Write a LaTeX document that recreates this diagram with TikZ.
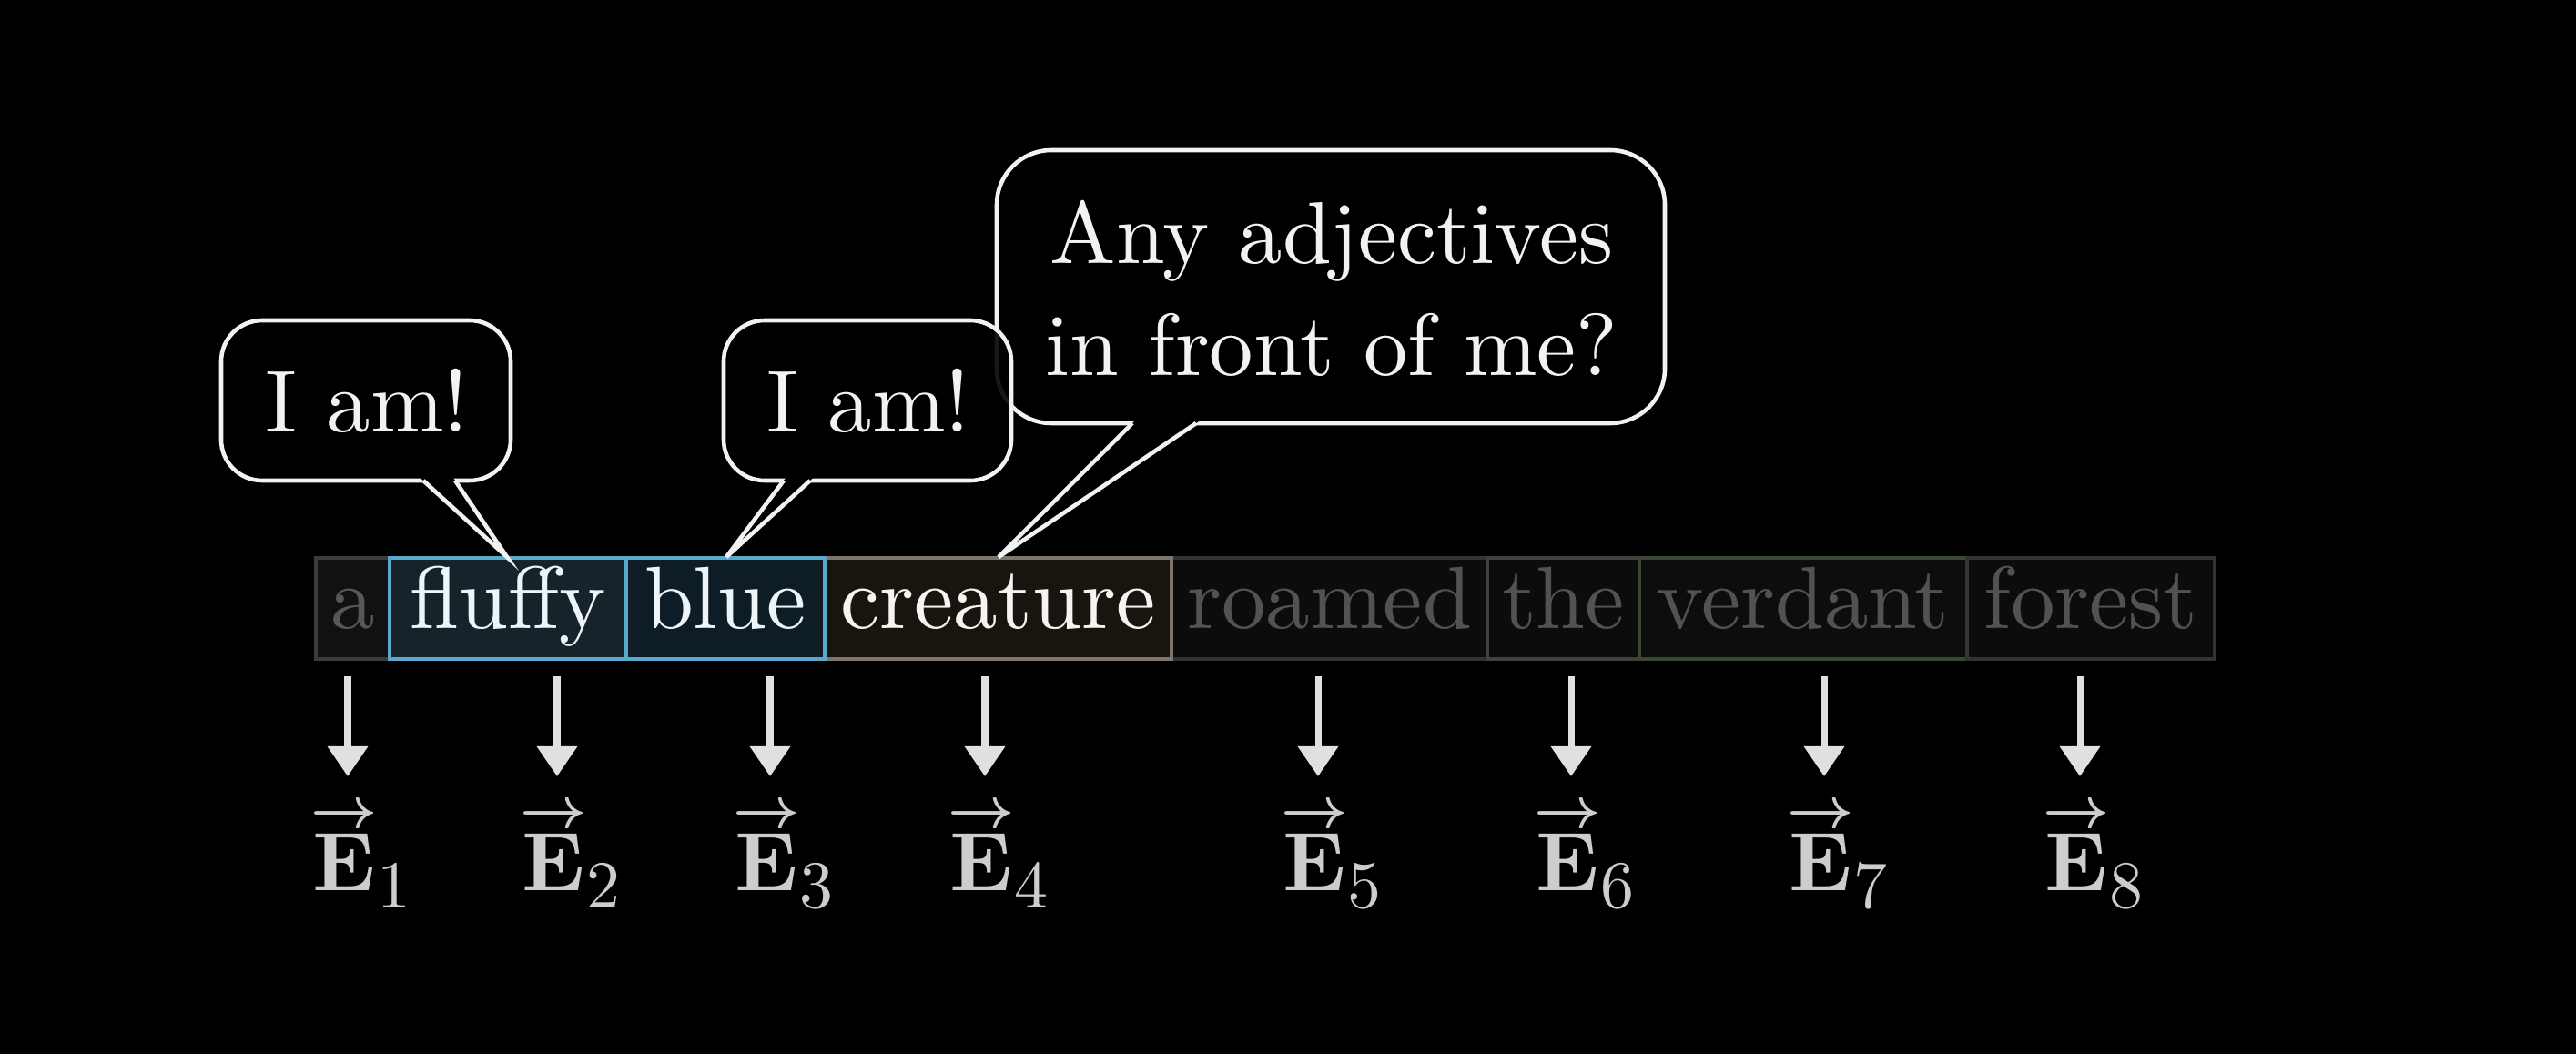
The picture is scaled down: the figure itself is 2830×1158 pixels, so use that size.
\documentclass[tikz,border=0pt]{standalone}
\usepackage{fontspec}
\setmainfont{lmroman10-regular.otf}[BoldFont=lmroman10-bold.otf, ItalicFont=lmroman10-italic.otf]
\usetikzlibrary{arrows.meta,calc}
\definecolor{bubstroke}{HTML}{F2F2F2}
\definecolor{bubtext}{HTML}{F2F2F2}
\definecolor{arrowgray}{HTML}{E0E0E0}
\definecolor{egray}{HTML}{CDCDCD}
\definecolor{dimtext}{HTML}{525252}
\definecolor{atext}{HTML}{575757}
\definecolor{brighttext}{HTML}{EEF5F8}
\definecolor{creatext}{HTML}{F6F4F0}
\definecolor{dimborder}{HTML}{333333}
\definecolor{dimfill}{HTML}{0C0C0C}
\definecolor{aborder}{HTML}{3C3C3C}
\definecolor{afill}{HTML}{111111}
\definecolor{theborder}{HTML}{404040}
\definecolor{blueborder}{HTML}{5AA8CA}
\definecolor{fluffyfill}{HTML}{17232A}
\definecolor{bluefill}{HTML}{0E1D25}
\definecolor{creaborder}{HTML}{7D766E}
\definecolor{creafill}{HTML}{18150F}
\definecolor{verdborder}{HTML}{3A4636}
\definecolor{verdfill}{HTML}{0B0E0A}
% bold E with an arrow as wide as the letter
\newcommand{\myvecE}{\setbox0\hbox{\bfseries E}%
  \rlap{\raisebox{1.1\ht0}{\hbox to\wd0{\hss\resizebox{1.06\wd0}{!}{\boldmath$\rightarrow$}\hss}}}\box0}
\begin{document}
\begin{tikzpicture}[x=0.01cm,y=-0.01cm]
\tikzset{
  wordbox/.style={draw, line width=1.1pt, inner sep=0pt, minimum height=1.11cm,
    text height=0.7cm, text depth=0.27cm, font=\fontsize{27.6}{34}\selectfont},
  bubble/.style={draw=bubstroke, line width=1.3pt, fill=black},
  tailcover/.style={fill=black},
  tailline/.style={draw=bubstroke, line width=1.3pt},
  btext/.style={text=bubtext, font=\fontsize{27.5}{35}\selectfont, inner sep=0pt, anchor=base},
  downarrow/.style={draw=arrowgray, line width=2pt, -{Triangle[width=0.43cm,length=0.33cm]}},
  elab/.style={text=egray, font=\fontsize{26}{32}\selectfont, inner sep=0pt, anchor=base west}
}
\useasboundingbox (0,0) rectangle (2830,1158);
\fill[black] (0,0) rectangle (2830,1158);

% word boxes
\node[wordbox, draw=aborder, fill=afill, text=atext, minimum width=0.81cm] (wa) at (387.5,668.5) {a};
\node[wordbox, draw=dimborder, fill=dimfill, text=dimtext, minimum width=3.47cm] (wroamed) at (1460.5,668.5) {roamed};
\node[wordbox, draw=theborder, fill=dimfill, text=dimtext, minimum width=1.67cm] (wthe) at (1717.5,668.5) {the};
\node[wordbox, draw=verdborder, fill=verdfill, text=dimtext, minimum width=3.60cm] (wverdant) at (1981,668.5) {verdant};
\node[wordbox, draw=dimborder, fill=dimfill, text=dimtext, minimum width=2.72cm] (wforest) at (2297,668.5) {forest};
\node[wordbox, draw=creaborder, fill=creafill, text=creatext, minimum width=3.81cm] (wcreature) at (1096.5,668.5) {creature};
\node[wordbox, draw=blueborder, fill=fluffyfill, text=brighttext, minimum width=2.60cm] (wfluffy) at (558,668.5) {fluffy};
\node[wordbox, draw=blueborder, fill=bluefill, text=brighttext, minimum width=2.18cm] (wblue) at (797,668.5) {blue};

% bubble 3 (behind bubble 2)
\draw[bubble, rounded corners=0.6cm] (1095,165) rectangle (1829,465);
\coordinate (c3l) at (1244,465);
\coordinate (c3r) at (1314,465);
\coordinate (c3t) at (1097,612);
\fill[tailcover] ($(c3l)!-0.05!(c3t)$) -- (c3t) -- ($(c3r)!-0.05!(c3t)$) -- cycle;
\draw[tailline] (c3l) -- (c3t) -- (c3r);
\node[btext] (q1) at (1463,290) {Any adjectives};
\node[btext] (q2) at (1463,413) {in front of me?};

% bubble 1
\draw[bubble, rounded corners=0.45cm] (243,352) rectangle (561,528);
\coordinate (c1l) at (465,528);
\coordinate (c1r) at (500,528);
\coordinate (c1t) at (557,612);
\fill[tailcover] ($(c1l)!-0.07!(c1t)$) -- (c1t) -- ($(c1r)!-0.07!(c1t)$) -- cycle;
\draw[tailline] (c1l) -- (c1t) -- (c1r);
\node[btext] (b1) at (403,475) {I am!};

% bubble 2 (over bubble 3)
\draw[bubble, fill opacity=0.9, rounded corners=0.45cm] (795,352) rectangle (1111,528);
\coordinate (c2l) at (861,528);
\coordinate (c2r) at (890,528);
\coordinate (c2t) at (798,612);
\fill[tailcover] ($(c2l)!-0.07!(c2t)$) -- (c2t) -- ($(c2r)!-0.07!(c2t)$) -- cycle;
\draw[tailline] (c2l) -- (c2t) -- (c2r);
\node[btext] (b2) at (954,475) {I am!};

% arrows and embedding labels
\foreach \i/\x in {1/382, 2/612, 3/846, 4/1082, 5/1448, 6/1726, 7/2004, 8/2285} {
  \coordinate (s\i) at (\x,743);
  \coordinate (t\i) at (\x,853);
  \draw[downarrow] (s\i) -- (t\i);
  \node[elab] (e\i) at (\x-39,978) {\myvecE\kern0.02em\raisebox{-0.19cm}{\fontsize{21}{24}\selectfont\i}};
}
\end{tikzpicture}
\end{document}
